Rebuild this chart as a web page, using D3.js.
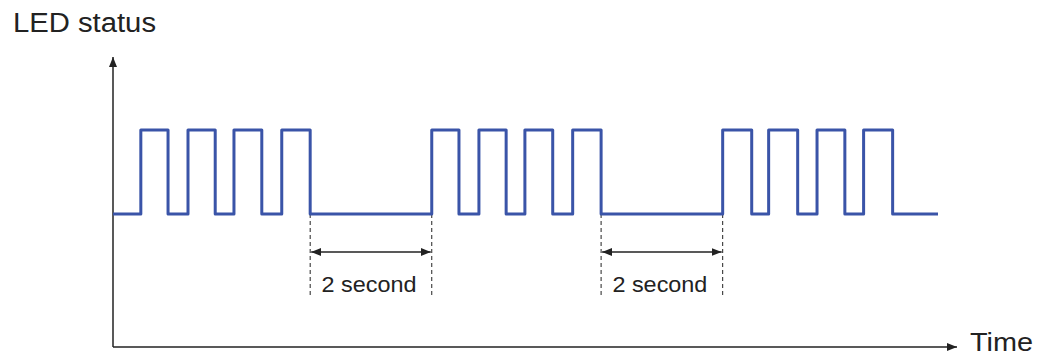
<!DOCTYPE html>
<meta charset="utf-8">
<script src="https://d3js.org/d3.v7.min.js"></script>
<style>
  body { margin: 0; background: #fff; }
  text { font-family: "Liberation Sans", Arial, sans-serif; fill: #222; }
</style>
<div id="my_dataviz"></div>
<script>

// signal edges in seconds (alternating rise / fall)
var edgeTimes = [0.46, 0.91, 1.24, 1.69, 2.00, 2.46, 2.79, 3.26,
                 5.27, 5.72, 6.05, 6.50, 6.81, 7.27, 7.60, 8.07,
                 10.08, 10.56, 10.84, 11.32, 11.64, 12.10, 12.41, 12.89];
var tStart = 0, tEnd = 13.64;

// the two "2 second" gaps
var gapStarts = [3.26, 8.07];
var gapEnds = [5.27, 10.08];
var gapLabels = ["2 second", "2 second"];

var width = 1038, height = 358;

var svg = d3.select("#my_dataviz")
  .append("svg")
    .attr("width", width)
    .attr("height", height);

var x = d3.scaleLinear().domain([tStart, tEnd]).range([113, 938]);
var y = d3.scaleLinear().domain([0, 1]).range([214, 130]);

var axisY0 = 347, axisTop = 57, axisRight = 957;

// arrow markers
var defs = svg.append("defs");
defs.append("marker")
    .attr("id", "head")
    .attr("viewBox", "0 0 10 8")
    .attr("refX", 10).attr("refY", 4)
    .attr("markerWidth", 10).attr("markerHeight", 8)
    .attr("markerUnits", "userSpaceOnUse")
    .attr("orient", "auto-start-reverse")
  .append("path")
    .attr("d", "M0,0L10,4L0,8Z")
    .attr("fill", "#222");

// axes
svg.append("line")
    .attr("x1", x(tStart)).attr("x2", x(tStart))
    .attr("y1", axisY0).attr("y2", axisTop)
    .attr("stroke", "#222").attr("stroke-width", 1.5)
    .attr("marker-end", "url(#head)");
svg.append("line")
    .attr("x1", x(tStart)).attr("x2", axisRight)
    .attr("y1", axisY0).attr("y2", axisY0)
    .attr("stroke", "#222").attr("stroke-width", 1.5)
    .attr("marker-end", "url(#head)");

svg.append("text")
    .attr("x", 13).attr("y", 32)
    .attr("textLength", 143).attr("lengthAdjust", "spacingAndGlyphs")
    .style("font-size", "27px")
    .text("LED status");
svg.append("text")
    .attr("x", 970).attr("y", 351)
    .attr("textLength", 63).attr("lengthAdjust", "spacingAndGlyphs")
    .style("font-size", "26px")
    .text("Time");

// build step data
var steps = [{t: tStart, v: 0}];
edgeTimes.forEach(function(t, i) { steps.push({t: t, v: i % 2 === 0 ? 1 : 0}); });
steps.push({t: tEnd, v: 0});

var line = d3.line()
  .x(function(d) { return x(d.t); })
  .y(function(d) { return y(d.v); })
  .curve(d3.curveStepAfter);

// gap annotations
var gaps = gapStarts.map(function(s, i) { return {from: s, to: gapEnds[i], label: gapLabels[i]}; });

gaps.forEach(function(g) {
  [g.from, g.to].forEach(function(t) {
    svg.append("line")
      .attr("x1", x(t)).attr("x2", x(t))
      .attr("y1", y(0)).attr("y2", 297)
      .attr("stroke", "#222").attr("stroke-width", 1)
      .attr("stroke-dasharray", "4,3");
  });
  svg.append("line")
    .attr("x1", x(g.from) + 1).attr("x2", x(g.to) - 1)
    .attr("y1", 252).attr("y2", 252)
    .attr("stroke", "#222").attr("stroke-width", 1.5)
    .attr("marker-start", "url(#head)")
    .attr("marker-end", "url(#head)");
  svg.append("text")
    .attr("x", (x(g.from) + x(g.to)) / 2 - 2).attr("y", 292)
    .attr("text-anchor", "middle")
    .attr("textLength", 95).attr("lengthAdjust", "spacingAndGlyphs")
    .style("font-size", "22px")
    .text(g.label);
});

svg.append("path")
    .datum(steps)
    .attr("d", line)
    .attr("fill", "none")
    .attr("stroke", "#3a54a8")
    .attr("stroke-width", 3)
    .attr("stroke-linejoin", "round");

</script>
